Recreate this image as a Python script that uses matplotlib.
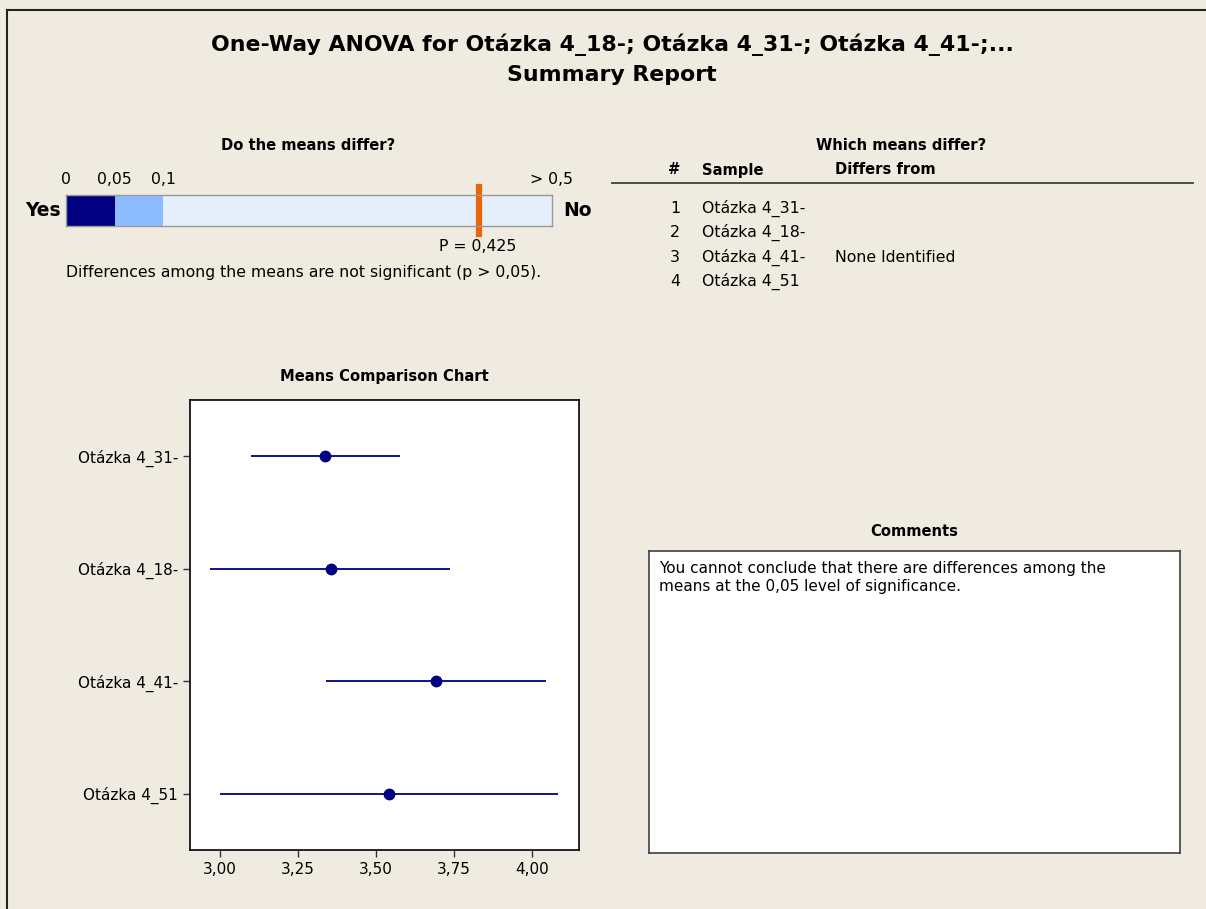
import numpy as np
import matplotlib
matplotlib.use("Agg")
import matplotlib.pyplot as plt
from matplotlib.lines import Line2D

plt.rcParams["font.family"] = ["DejaVu Sans"]

# Data
samples = ["Otázka 4_31-", "Otázka 4_18-", "Otázka 4_41-", "Otázka 4_51"]
means = [3.338, 3.355, 3.692, 3.542]
ci_low = [3.098, 2.969, 3.340, 3.000]
ci_high = [3.576, 3.737, 4.043, 4.083]
p_value = 0.425
p_cuts = [0, 0.05, 0.1, 0.5]
p_tick_labels = ["0", "0,05", "0,1", "> 0,5"]
x_ticks = [3.00, 3.25, 3.50, 3.75, 4.00]
differs = ["", "", "None Identified", ""]

BG = "#EFEBE1"
NAVY = "#000080"
W, H = 1206, 909
FS = 11.3      # body text
FSB = 10.6     # bold section headers

def fx(px): return px / W
def fy(py): return 1 - py / H

fig = plt.figure(figsize=(W / 100, H / 100), dpi=100, facecolor=BG)

# frame lines (top and left)
fig.add_artist(Line2D([fx(7), 1], [fy(10), fy(10)], color="#222222", lw=1.5))
fig.add_artist(Line2D([fx(7), fx(7)], [fy(10), 0], color="#222222", lw=1.5))

# Title
fig.text(fx(612), fy(45), "One-Way ANOVA for Otázka 4_18-; Otázka 4_31-; Otázka 4_41-;...",
         ha="center", va="center", fontsize=15.8, fontweight="bold")
fig.text(fx(612), fy(75), "Summary Report", ha="center", va="center",
         fontsize=15.8, fontweight="bold")

# --- Do the means differ? ---
fig.text(fx(308), fy(145), "Do the means differ?", ha="center", va="center",
         fontsize=FSB, fontweight="bold")
axp = fig.add_axes([fx(66), fy(226), fx(552 - 66), (226 - 195) / H])
seg_colors = [NAVY, "#8DBBFF", "#E5EEFB"]
for i in range(3):
    axp.barh(0, p_cuts[i + 1] - p_cuts[i], left=p_cuts[i], height=1,
             color=seg_colors[i], edgecolor="none")
axp.set_xlim(0, 0.5)
axp.set_ylim(-0.5, 0.5)
axp.set_yticks([])
axp.xaxis.tick_top()
axp.set_xticks(p_cuts)
axp.set_xticklabels(p_tick_labels, fontsize=FS)
axp.tick_params(axis="x", length=0, pad=6)
for s in axp.spines.values():
    s.set_color("#9A9A9A")
    s.set_linewidth(1)
axp.axvline(p_value, ymin=-0.25, ymax=1.25, color="#E8650A", lw=4.5, clip_on=False)
fig.text(fx(478), fy(247), f"P = {p_value:.3f}".replace(".", ","), ha="center", va="center",
         fontsize=FS)
fig.text(fx(61), fy(211), "Yes", ha="right", va="center", fontsize=13.5, fontweight="bold")
fig.text(fx(563), fy(211), "No", ha="left", va="center", fontsize=13.5, fontweight="bold")
fig.text(fx(66), fy(272), "Differences among the means are not significant (p > 0,05).",
         ha="left", va="center", fontsize=FS)

# --- Which means differ? ---
fig.text(fx(901), fy(145), "Which means differ?", ha="center", va="center",
         fontsize=FSB, fontweight="bold")
hdr_base = fy(174.5)
fig.text(fx(674), hdr_base, "#", ha="center", va="baseline", fontsize=FSB, fontweight="bold")
fig.text(fx(702), hdr_base, "Sample", ha="left", va="baseline", fontsize=FSB, fontweight="bold")
fig.text(fx(835), hdr_base, "Differs from", ha="left", va="baseline", fontsize=FSB, fontweight="bold")
fig.add_artist(Line2D([fx(612), fx(1193)], [fy(183), fy(183)], color="#404040", lw=1.3))
row_y = [207, 231, 256, 280]
for i, name in enumerate(samples):
    base = fy(row_y[i] + 5.7)
    fig.text(fx(675), base, str(i + 1), ha="center", va="baseline", fontsize=FS)
    fig.text(fx(702), base, name, ha="left", va="baseline", fontsize=FS)
    if differs[i]:
        fig.text(fx(835), base, differs[i], ha="left", va="baseline", fontsize=FS)

# --- Means Comparison Chart ---
fig.text(fx(384), fy(376), "Means Comparison Chart", ha="center", va="center",
         fontsize=FSB, fontweight="bold")
axm = fig.add_axes([fx(190), fy(850), fx(579 - 190), (850 - 400) / H])
axm.set_facecolor("white")
ypos = np.arange(len(samples))
axm.hlines(ypos, ci_low, ci_high, color=NAVY, lw=1.3)
axm.plot(means, ypos, "o", color=NAVY, markersize=7.5)
axm.set_xlim(2.904, 4.150)
axm.set_ylim(3.5, -0.5)
axm.set_yticks(ypos)
axm.set_yticklabels(samples, fontsize=11)
axm.set_xticks(x_ticks)
axm.set_xticklabels([f"{v:.2f}".replace(".", ",") for v in x_ticks], fontsize=11)
axm.tick_params(length=5, width=1, color="#333333")
for s in axm.spines.values():
    s.set_color("black")
    s.set_linewidth(1.2)

# --- Comments ---
fig.text(fx(914), fy(531), "Comments", ha="center", va="center", fontsize=FSB, fontweight="bold")
axc = fig.add_axes([fx(649), fy(853), fx(1180 - 649), (853 - 551) / H])
axc.set_facecolor("white")
axc.set_xticks([])
axc.set_yticks([])
for s in axc.spines.values():
    s.set_color("#404040")
    s.set_linewidth(1.2)
fig.text(fx(659), fy(561), "You cannot conclude that there are differences among the\n"
         "means at the 0,05 level of significance.", ha="left", va="top",
         fontsize=11, linespacing=1.25)

fig.savefig("out.png", dpi=100, facecolor=BG)
